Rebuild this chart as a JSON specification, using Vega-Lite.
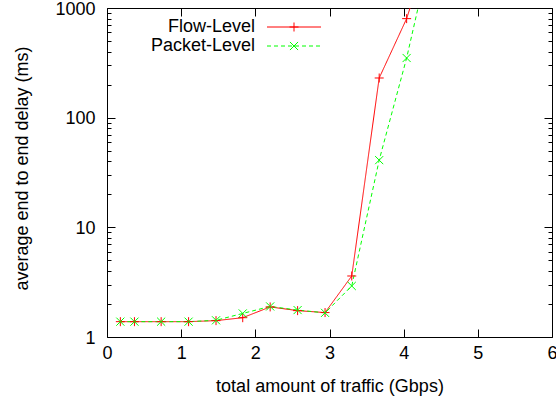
{
  "$schema": "https://vega.github.io/schema/vega-lite/v6.json",
  "width": 445,
  "height": 329,
  "autosize": {"type": "none"},
  "padding": {"left": 107, "top": 8, "right": 4, "bottom": 66},
  "background": "white",
  "config": {
    "view": {"stroke": null},
    "font": "Liberation Sans",
    "axis": {
      "domainColor": "black",
      "domainWidth": 1,
      "tickColor": "black",
      "tickWidth": 1,
      "labelColor": "black",
      "titleColor": "black",
      "labelFont": "Liberation Sans",
      "titleFont": "Liberation Sans",
      "labelFontSize": 18,
      "titleFontSize": 18,
      "titleFontWeight": "normal",
      "grid": false,
      "labelOverlap": false,
      "labelFlush": false
    }
  },
  "data": {
    "values": [
      {"traffic": 0.18, "delay": 1.38, "series": "Flow-Level"},
      {"traffic": 0.37, "delay": 1.38, "series": "Flow-Level"},
      {"traffic": 0.73, "delay": 1.38, "series": "Flow-Level"},
      {"traffic": 1.1, "delay": 1.38, "series": "Flow-Level"},
      {"traffic": 1.47, "delay": 1.41, "series": "Flow-Level"},
      {"traffic": 1.83, "delay": 1.5, "series": "Flow-Level"},
      {"traffic": 2.2, "delay": 1.88, "series": "Flow-Level"},
      {"traffic": 2.57, "delay": 1.74, "series": "Flow-Level"},
      {"traffic": 2.94, "delay": 1.67, "series": "Flow-Level"},
      {"traffic": 3.3, "delay": 3.6, "series": "Flow-Level"},
      {"traffic": 3.67, "delay": 230, "series": "Flow-Level"},
      {"traffic": 4.04, "delay": 800, "series": "Flow-Level"},
      {"traffic": 4.4, "delay": 4600, "series": "Flow-Level"},
      {"traffic": 0.18, "delay": 1.38, "series": "Packet-Level"},
      {"traffic": 0.37, "delay": 1.38, "series": "Packet-Level"},
      {"traffic": 0.73, "delay": 1.38, "series": "Packet-Level"},
      {"traffic": 1.1, "delay": 1.38, "series": "Packet-Level"},
      {"traffic": 1.47, "delay": 1.42, "series": "Packet-Level"},
      {"traffic": 1.83, "delay": 1.64, "series": "Packet-Level"},
      {"traffic": 2.2, "delay": 1.9, "series": "Packet-Level"},
      {"traffic": 2.57, "delay": 1.76, "series": "Packet-Level"},
      {"traffic": 2.94, "delay": 1.66, "series": "Packet-Level"},
      {"traffic": 3.3, "delay": 2.92, "series": "Packet-Level"},
      {"traffic": 3.67, "delay": 41, "series": "Packet-Level"},
      {"traffic": 4.04, "delay": 350, "series": "Packet-Level"},
      {"traffic": 4.4, "delay": 4100, "series": "Packet-Level"}
    ]
  },
  "resolve": {"legend": {"color": "independent", "shape": "independent", "strokeDash": "independent"}},
  "layer": [
    {
      "mark": {"type": "line", "clip": true, "strokeWidth": 1},
      "encoding": {
        "x": {
          "field": "traffic", "type": "quantitative",
          "scale": {"domain": [0, 6], "nice": false},
          "axis": {"orient": "bottom", "values": [0, 1, 2, 3, 4, 5, 6], "title": "total amount of traffic (Gbps)", "tickSize": -8, "labelPadding": 15, "titlePadding": 15}
        },
        "y": {
          "field": "delay", "type": "quantitative",
          "scale": {"type": "log", "domain": [1, 1000], "nice": false},
          "axis": {
            "orient": "left",
            "values": [1, 2, 3, 4, 5, 6, 7, 8, 9, 10, 20, 30, 40, 50, 60, 70, 80, 90, 100, 200, 300, 400, 500, 600, 700, 800, 900, 1000],
            "tickSize": {"condition": {"test": "indexof([1,10,100,1000], datum.value) >= 0", "value": -8}, "value": -4},
            "labelExpr": "indexof([1,10,100,1000], datum.value) >= 0 ? format(datum.value, 'd') : ''",
            "labelPadding": 20,
            "labelOffset": 1,
            "title": "average end to end delay (ms)",
            "titlePadding": 23,
            "titleY": 160
          }
        },
        "color": {
          "field": "series", "type": "nominal",
          "scale": {"domain": ["Flow-Level", "Packet-Level"], "range": ["#ff0000", "#00ff00"]},
          "legend": {
            "orient": "none", "legendX": 130, "legendY": 10,
            "title": null,
            "labelAlign": "right", "labelOffset": -48, "symbolOffset": 48,
            "labelFontSize": 18, "labelFont": "Liberation Sans", "labelColor": "black", "labelLimit": 0,
            "padding": 0, "rowPadding": 1,
            "symbolStrokeWidth": 1, "symbolSize": 81,
            "symbolType": "M-6,0L6,0"
          }
        },
        "strokeDash": {"field": "series", "type": "nominal", "scale": {"domain": ["Flow-Level", "Packet-Level"], "range": [[1, 0], [4, 3]]}}
      }
    },
    {
      "mark": {"type": "point", "clip": true, "filled": false, "strokeWidth": 1, "size": 81, "opacity": 1},
      "encoding": {
        "x": {
          "field": "traffic", "type": "quantitative",
          "axis": {"orient": "top", "values": [0, 1, 2, 3, 4, 5, 6], "labels": false, "title": null, "tickSize": -8}
        },
        "y": {
          "field": "delay", "type": "quantitative",
          "axis": {
            "orient": "right",
            "values": [1, 2, 3, 4, 5, 6, 7, 8, 9, 10, 20, 30, 40, 50, 60, 70, 80, 90, 100, 200, 300, 400, 500, 600, 700, 800, 900, 1000],
            "tickSize": {"condition": {"test": "indexof([1,10,100,1000], datum.value) >= 0", "value": -8}, "value": -4},
            "labels": false,
            "title": null
          }
        },
        "color": {
          "field": "series", "type": "nominal",
          "legend": {
            "orient": "none", "legendX": 130, "legendY": 10,
            "title": null,
            "labelAlign": "right", "labelOffset": -48, "symbolOffset": 48,
            "labelFontSize": 18, "labelFont": "Liberation Sans", "labelColor": "transparent", "labelLimit": 0,
            "padding": 0, "rowPadding": 1,
            "symbolStrokeWidth": 1, "symbolSize": 81
          }
        },
        "shape": {
          "field": "series", "type": "nominal",
          "scale": {"domain": ["Flow-Level", "Packet-Level"], "range": ["M-1,0L1,0M0,-1L0,1", "M-0.9,-0.9L0.9,0.9M-0.9,0.9L0.9,-0.9"]}
        }
      }
    }
  ]
}
